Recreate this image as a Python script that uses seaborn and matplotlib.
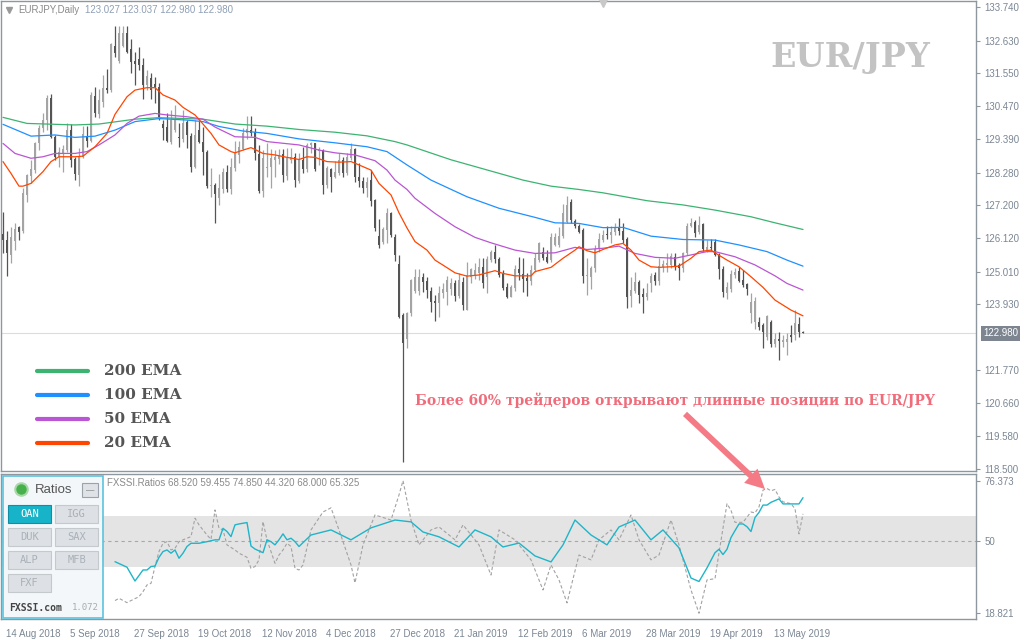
import numpy as np
import pandas as pd
import matplotlib.pyplot as plt
import matplotlib.patches as mpatches
import matplotlib.transforms as mtransforms
from matplotlib.lines import Line2D
import seaborn as sns

# EURJPY daily candles, 14 Aug 2018 .. 23 May 2019
opens = [126.24, 126.05, 125.56, 126.03, 126.49, 126.36, 127.54, 128.16, 128.36, 129.26,
         129.74, 130.01, 130.73, 129.46, 128.80, 128.91, 129.02, 129.68, 128.71, 128.20,
         128.80, 129.49, 129.33, 130.80, 130.21, 130.62, 131.08, 131.00, 132.46, 131.97,
         132.45, 132.89, 132.34, 131.97, 132.01, 131.83, 131.17, 131.39, 131.19, 131.11,
         129.88, 129.79, 129.30, 129.68, 129.46, 129.37, 129.96, 129.48, 128.45, 129.68,
         129.30, 128.97, 127.84, 127.87, 127.45, 127.72, 128.31, 127.72, 128.42, 128.86,
         129.04, 129.57, 129.68, 129.63, 128.89, 127.68, 128.42, 128.47, 128.69, 128.71,
         128.89, 128.17, 128.69, 128.78, 128.01, 128.69, 128.39, 129.19, 129.24, 129.00,
         129.02, 127.87, 128.39, 128.14, 128.28, 128.69, 128.28, 128.75, 129.04, 128.14,
         128.01, 127.76, 128.03, 127.37, 126.18, 125.99, 126.38, 126.95, 126.16, 125.26,
         123.58, 122.80, 123.65, 124.38, 124.38, 124.84, 124.71, 124.38, 124.05, 123.98,
         124.29, 124.35, 124.42, 124.64, 124.20, 124.68, 123.74, 124.84, 124.90, 124.95,
         125.15, 124.84, 125.39, 125.67, 125.42, 124.93, 124.51, 124.18, 124.46, 125.09,
         124.93, 124.79, 124.71, 125.06, 125.39, 125.67, 125.50, 125.39, 125.89, 125.89,
         126.18, 126.66, 127.32, 126.69, 126.51, 126.38, 124.86, 124.84, 125.12, 125.74,
         126.05, 126.24, 126.22, 126.33, 126.47, 126.36, 126.07, 124.20, 124.38, 124.68,
         124.26, 124.16, 124.62, 124.90, 124.71, 125.17, 125.23, 125.23, 125.50, 125.23,
         125.12, 125.61, 126.51, 126.65, 126.33, 126.58, 125.70, 125.83, 126.00, 125.56,
         125.09, 124.31, 124.42, 124.90, 125.04, 124.73, 124.60, 123.63, 123.36, 123.36,
         123.25, 122.84, 123.36, 122.62, 122.77, 122.70, 122.70, 122.92, 122.92, 123.28,
         123.027]
highs = [126.99, 126.36, 126.47, 126.60, 126.51, 127.76, 128.23, 128.69, 129.30, 129.85,
         130.26, 130.84, 130.87, 129.52, 129.13, 129.19, 129.92, 129.88, 128.80, 129.08,
         129.81, 129.81, 130.95, 131.11, 131.02, 131.50, 131.68, 132.54, 133.11, 133.11,
         133.11, 133.11, 132.68, 132.27, 132.41, 132.05, 131.66, 131.55, 131.44, 131.24,
         130.01, 130.23, 130.34, 130.51, 129.90, 130.34, 130.01, 129.57, 130.01, 130.01,
         129.79, 129.02, 128.42, 127.92, 128.23, 128.42, 128.53, 128.75, 129.33, 129.33,
         129.74, 130.14, 130.14, 129.74, 129.19, 129.02, 129.24, 129.04, 129.02, 129.04,
         129.04, 129.08, 129.08, 128.93, 128.91, 129.13, 129.26, 129.30, 129.26, 129.13,
         129.04, 128.50, 128.44, 128.66, 128.91, 128.80, 128.91, 129.24, 129.08, 128.58,
         128.12, 128.14, 128.36, 127.39, 126.73, 126.49, 127.10, 126.99, 126.25, 125.56,
         123.63, 123.68, 124.76, 125.09, 125.09, 124.97, 124.84, 124.51, 124.24, 124.54,
         124.62, 124.86, 124.79, 124.73, 124.95, 124.84, 125.34, 125.12, 125.31, 125.45,
         125.45, 125.53, 125.72, 125.89, 125.48, 125.06, 124.64, 124.57, 125.23, 125.50,
         125.45, 124.97, 125.23, 125.64, 125.99, 125.83, 125.72, 126.29, 126.27, 126.49,
         127.24, 127.50, 127.39, 126.73, 126.58, 126.44, 125.45, 125.20, 125.89, 126.29,
         126.38, 126.51, 126.51, 126.60, 126.77, 126.62, 126.14, 124.82, 125.01, 124.73,
         124.46, 124.62, 124.95, 125.01, 125.45, 125.39, 125.61, 125.63, 125.61, 125.28,
         125.67, 126.60, 126.77, 126.71, 126.84, 126.60, 126.05, 126.07, 126.07, 125.63,
         125.20, 124.68, 125.06, 125.12, 125.17, 125.06, 124.64, 124.29, 124.18, 123.52,
         123.30, 123.58, 123.41, 122.97, 123.03, 122.92, 122.97, 123.25, 123.74, 123.52,
         123.037]
lows = [125.61, 124.88, 125.28, 125.72, 126.05, 126.27, 127.32, 127.92, 128.25, 129.02,
        129.63, 129.68, 129.41, 128.69, 128.47, 128.31, 128.97, 128.47, 128.03, 127.85,
        128.75, 129.13, 129.30, 130.12, 130.07, 130.45, 130.89, 130.95, 132.10, 131.88,
        132.43, 132.23, 131.55, 131.17, 131.66, 130.69, 131.00, 130.69, 130.58, 130.01,
        129.35, 129.30, 129.22, 129.63, 129.11, 129.30, 129.08, 128.31, 128.42, 129.24,
        128.20, 127.76, 127.48, 126.62, 127.21, 127.59, 127.65, 127.57, 128.34, 128.58,
        129.02, 129.37, 129.48, 128.69, 127.61, 127.48, 128.12, 127.76, 128.12, 128.56,
        127.98, 128.03, 128.58, 127.81, 127.92, 128.28, 128.31, 128.91, 128.34, 128.53,
        127.57, 127.76, 127.65, 128.09, 128.20, 128.14, 128.20, 128.69, 127.98, 127.81,
        127.59, 127.48, 127.17, 126.36, 125.78, 125.92, 125.97, 126.14, 125.37, 123.47,
        118.74, 122.50, 123.55, 124.29, 124.24, 124.35, 124.13, 123.69, 123.39, 123.50,
        124.13, 123.91, 124.24, 124.05, 124.13, 123.74, 123.74, 124.62, 124.75, 124.73,
        124.46, 124.31, 125.34, 125.31, 124.84, 124.40, 124.13, 124.16, 124.38, 124.73,
        124.35, 124.20, 124.57, 125.01, 125.34, 125.39, 125.28, 125.34, 125.86, 125.83,
        126.11, 126.60, 126.60, 126.44, 126.27, 124.62, 124.24, 124.42, 125.01, 125.67,
        125.99, 126.07, 125.96, 126.22, 126.22, 125.94, 123.80, 123.85, 124.29, 123.98,
        123.63, 124.07, 124.35, 124.57, 124.57, 125.01, 125.01, 125.12, 125.06, 124.73,
        125.01, 125.56, 126.49, 126.16, 126.25, 125.70, 125.67, 125.70, 125.52, 124.75,
        124.18, 124.09, 124.35, 124.79, 124.68, 124.49, 124.24, 123.32, 123.10, 123.08,
        122.48, 122.75, 122.53, 122.53, 122.09, 122.53, 122.26, 122.70, 122.75, 122.86,
        122.980]
closes = [126.05, 125.61, 126.14, 126.41, 126.33, 127.59, 128.20, 128.38, 129.24, 129.74,
          130.01, 130.73, 129.46, 128.80, 128.97, 129.05, 129.68, 128.69, 128.23, 128.80,
          129.55, 129.33, 130.84, 130.23, 130.67, 131.06, 131.00, 132.51, 132.23, 132.90,
          132.90, 132.27, 131.94, 131.86, 131.83, 131.17, 131.46, 131.00, 131.11, 130.12,
          129.76, 129.33, 130.01, 130.01, 129.41, 129.90, 129.52, 128.45, 129.52, 129.30,
          128.97, 127.84, 127.87, 127.57, 127.76, 128.31, 127.72, 128.47, 128.91, 129.11,
          129.59, 129.70, 129.57, 128.93, 127.68, 128.75, 128.47, 128.75, 128.78, 128.86,
          128.20, 128.75, 128.80, 128.03, 128.69, 128.39, 129.19, 129.26, 128.39, 129.02,
          127.87, 128.42, 128.14, 128.31, 128.69, 128.28, 128.80, 129.04, 128.14, 128.01,
          127.76, 127.98, 127.35, 126.46, 125.89, 126.40, 126.95, 126.22, 125.56, 123.52,
          122.64, 123.63, 124.73, 124.84, 124.82, 124.68, 124.40, 124.02, 123.98, 124.31,
          124.42, 124.73, 124.64, 124.20, 124.73, 123.91, 124.90, 125.09, 125.06, 125.17,
          124.62, 125.42, 125.67, 125.42, 124.90, 124.46, 124.18, 124.51, 125.09, 124.95,
          124.75, 124.71, 125.06, 125.45, 125.94, 125.45, 125.34, 126.14, 126.14, 126.18,
          126.93, 127.21, 126.71, 126.51, 126.33, 124.86, 124.90, 125.12, 125.74, 126.07,
          126.22, 126.21, 126.33, 126.47, 126.36, 126.05, 124.18, 124.40, 124.68, 124.24,
          124.16, 124.31, 124.86, 124.71, 125.20, 125.26, 125.31, 125.52, 125.17, 125.12,
          125.61, 126.51, 126.62, 126.29, 126.55, 125.74, 125.83, 125.78, 125.56, 125.09,
          124.35, 124.49, 124.93, 125.01, 124.71, 124.57, 124.42, 124.02, 124.05, 123.19,
          123.03, 123.54, 122.62, 122.78, 122.73, 122.75, 122.78, 122.86, 123.33, 123.03,
          122.980]

# moving averages, read at selected trading days (day number from 14 Aug 2018)
ema200_day = [0, 6, 18, 24, 33, 39, 50, 58, 66, 74, 83, 91, 98, 101, 112, 130, 137, 144, 150,
              161, 170, 178, 187, 193, 200]
ema200 = [130.10, 129.90, 129.85, 129.88, 130.04, 130.09, 130.04, 129.88, 129.81, 129.70,
          129.61, 129.49, 129.30, 129.19, 128.70, 128.03, 127.83, 127.72, 127.61, 127.35,
          127.21, 127.04, 126.82, 126.62, 126.40]
ema100_day = [0, 7, 13, 18, 23, 28, 33, 39, 46, 50, 54, 60, 66, 74, 83, 91, 96, 101, 107, 116,
              124, 133, 138, 144, 150, 155, 162, 170, 178, 184, 191, 196, 200]
ema100 = [129.87, 129.48, 129.52, 129.44, 129.48, 129.68, 129.96, 130.06, 130.01, 129.96,
          129.80, 129.65, 129.57, 129.39, 129.26, 129.13, 128.97, 128.53, 128.03, 127.48,
          127.10, 126.80, 126.62, 126.60, 126.46, 126.47, 126.18, 126.07, 126.05, 125.89,
          125.67, 125.39, 125.19]
ema50_day = [0, 3, 7, 10, 13, 18, 21, 24, 28, 31, 34, 38, 41, 46, 50, 53, 58, 63, 66, 74,
             79, 83, 88, 93, 96, 98, 101, 103, 108, 113, 118, 122, 128, 133, 138, 143, 146,
             150, 154, 158, 163, 168, 172, 176, 178, 183, 188, 193, 196, 200]
ema50 = [129.24, 128.91, 128.75, 128.80, 128.91, 128.91, 128.97, 129.19, 129.52, 129.90,
         130.14, 130.23, 130.18, 130.12, 130.04, 129.78, 129.46, 129.44, 129.30, 129.19,
         129.02, 128.93, 128.86, 128.67, 128.36, 128.03, 127.72, 127.43, 126.93, 126.49,
         126.14, 125.96, 125.72, 125.61, 125.63, 125.81, 125.74, 125.78, 125.85, 125.61,
         125.48, 125.45, 125.56, 125.67, 125.67, 125.50, 125.23, 124.87, 124.62, 124.40]
ema20_day = [0, 2, 4, 5, 7, 10, 12, 14, 18, 20, 23, 26, 28, 31, 33, 36, 38, 40, 43, 45,
             48, 50, 52, 54, 57, 58, 60, 62, 63, 65, 68, 71, 74, 76, 78, 81, 84, 87, 89, 92,
             94, 97, 99, 101, 103, 106, 108, 111, 113, 116, 119, 123, 125, 128, 132, 133, 137,
             140, 143, 144, 146, 148, 150, 153, 155, 157, 159, 162, 164, 167, 169, 172, 174,
             177, 178, 181, 184, 187, 190, 193, 197, 200]
ema20 = [128.64, 128.25, 127.83, 127.83, 127.92, 128.31, 128.64, 128.80, 128.80, 128.82,
         129.13, 129.57, 130.20, 130.78, 131.00, 131.08, 131.08, 130.84, 130.67, 130.43,
         130.18, 129.88, 129.57, 129.19, 128.97, 128.93, 129.02, 129.10, 129.04, 128.91,
         128.86, 128.78, 128.71, 128.80, 128.78, 128.64, 128.62, 128.64, 128.53, 128.36,
         127.92, 127.54, 126.95, 126.45, 126.00, 125.72, 125.39, 125.14, 124.97, 124.86,
         124.90, 125.04, 124.95, 124.87, 124.87, 125.01, 125.15, 125.45, 125.72, 125.83,
         125.70, 125.63, 125.74, 125.89, 125.94, 125.72, 125.39, 125.17, 125.15, 125.17,
         125.19, 125.45, 125.67, 125.72, 125.63, 125.39, 125.17, 124.84, 124.49, 124.07,
         123.74, 123.55]

# FXSSI Ratios (OANDA) and dashed crowd line
ratio_day = [28, 31, 33, 35, 36, 37, 38, 39, 40, 41, 42, 43, 44, 45, 46, 47, 49, 51, 53, 54,
             55, 56, 57, 58, 59, 61, 62, 63, 65, 66, 67, 68, 69, 70, 71, 72, 73, 74, 77, 82,
             87, 92, 98, 102, 105, 109, 114, 118, 122, 125, 129, 133, 137, 140, 143, 147, 151,
             154, 158, 162, 165, 169, 172, 174, 176, 178, 179, 180, 181, 182, 183, 184, 185,
             186, 187, 188, 189, 190, 191, 192, 194, 195, 197, 199, 200]
ratio_oan = [41.2, 38.8, 32.8, 37.6, 37.6, 39.1, 39.3, 43.1, 45.6, 46.3, 44.9, 46.3, 42.7,
             44.9, 47.8, 49.2, 49.2, 49.9, 50.7, 50.7, 55.7, 54.3, 52.1, 57.2, 57.6, 58.2,
             48.0, 46.7, 45.1, 50.7, 49.9, 48.5, 50.7, 53.3, 50.7, 51.4, 49.9, 47.8, 52.8,
             55.0, 50.7, 55.9, 59.3, 58.5, 54.1, 52.0, 47.6, 55.0, 52.0, 47.6, 49.3, 43.7,
             41.1, 48.5, 59.3, 52.8, 48.5, 56.3, 59.3, 50.7, 55.0, 47.2, 34.1, 32.6, 38.5,
             45.1, 46.6, 44.3, 46.6, 51.7, 54.7, 57.6, 57.6, 56.4, 54.3, 60.4, 62.6, 65.8,
             65.8, 67.0, 68.5, 66.3, 66.3, 66.3, 69.0]
crowd_day = [28, 29, 31, 32, 34, 35, 36, 37, 38, 39, 40, 41, 42, 43, 44, 45, 47, 48, 49, 51,
             52, 53, 54, 55, 56, 58, 59, 61, 62, 63, 64, 65, 66, 68, 69, 70, 71, 72, 73, 74,
             75, 77, 80, 82, 84, 87, 88, 90, 93, 97, 99, 100, 102, 104, 107, 109, 113, 115,
             119, 122, 124, 128, 132, 135, 137, 139, 141, 144, 147, 149, 152, 154, 157, 159,
             162, 164, 167, 169, 172, 174, 176, 178, 179, 181, 182, 183, 185, 187, 188, 189,
             190, 191, 192, 193, 194, 195, 197, 198, 199, 200]
crowd = [24.3, 25.3, 23.4, 24.3, 26.0, 28.2, 31.1, 31.8, 39.1, 45.6, 49.2, 49.9, 46.3, 47.0,
         49.9, 50.7, 52.1, 60.1, 57.2, 52.8, 50.9, 63.7, 55.7, 55.0, 48.5, 46.3, 44.9, 43.1,
         38.3, 39.1, 42.0, 58.6, 50.7, 40.5, 44.1, 46.3, 49.2, 47.8, 38.3, 37.6, 39.8, 55.0,
         62.8, 64.6, 55.0, 39.8, 32.0, 48.5, 61.5, 59.3, 70.2, 76.4, 59.3, 48.5, 55.0, 56.3,
         50.7, 57.2, 48.5, 35.4, 55.0, 50.7, 42.0, 28.9, 39.8, 33.3, 23.3, 44.1, 42.0, 50.7,
         55.0, 50.7, 61.5, 50.7, 42.0, 44.1, 59.3, 48.5, 28.9, 18.8, 33.3, 33.8, 45.1, 66.4,
         63.5, 58.3, 58.3, 62.8, 62.4, 65.0, 72.3, 73.0, 72.0, 72.6, 69.3, 67.2, 66.4, 64.2,
         53.3, 62.0]

price_ticks = [133.74, 132.63, 131.55, 130.47, 129.39, 128.28, 127.20, 126.12, 125.01,
               123.93, 121.77, 120.66, 119.58, 118.50]
last_price = 122.98
ratio_ticks = [18.821, 50, 76.373]
ratio_tick_labels = ['18.821', '50', '76.373']
ema_labels = ['200 EMA', '100 EMA', '50 EMA', '20 EMA']
ema_colors = ['#3cb371', '#1e90ff', '#ba55d3', '#ff4500']
brokers = ['OAN', 'IGG', 'DUK', 'SAX', 'ALP', 'MFB', 'FXF']

dates = pd.bdate_range('2018-08-14', periods=len(closes), freq='C',
                       holidays=['2018-12-25', '2019-01-01'])
df = pd.DataFrame({'open': opens, 'high': highs, 'low': lows, 'close': closes})
df['day'] = np.arange(len(df))

sns.set_style('white')
plt.rcParams['font.family'] = ['Liberation Sans', 'DejaVu Sans']

W, H = 1024, 640
fig = plt.figure(figsize=(W / 100, H / 100), dpi=100)


def fx(px):
    return px / W


def fy(py):
    return 1 - py / H


frame = '#8e969e'
lab_col = '#7b8794'

ax = fig.add_axes([fx(1), fy(471), fx(976) - fx(1), fy(1) - fy(471)])
ax2 = fig.add_axes([fx(1), fy(619), fx(976) - fx(1), fy(474) - fy(619)])

# ---- price panel
ax.axhline(last_price, color='#dcdcdc', lw=0.8, zorder=0)
up = df['close'] >= df['open']
col = np.where(up, '#a4a4a4', '#545454')
ax.vlines(df['day'], df['low'], df['high'], colors=col, lw=0.9, zorder=2)
body = (df['close'] - df['open']).abs().clip(lower=0.04)
ax.bar(df['day'], body, bottom=df[['open', 'close']].min(axis=1), width=0.62,
       color=col, linewidth=0, zorder=3)

for d, v, c in [(ema200_day, ema200, ema_colors[0]), (ema100_day, ema100, ema_colors[1]),
                (ema50_day, ema50, ema_colors[2]), (ema20_day, ema20, ema_colors[3])]:
    sns.lineplot(x=d, y=v, ax=ax, color=c, lw=0.9, estimator=None, zorder=4)

ax.set_xlim(-0.5, 243.25)
ax.set_ylim(118.43, 133.94)
ax.set_xticks([])
ax.yaxis.tick_right()
ax.set_yticks(price_ticks)
ax.set_yticklabels([f'{v:.3f}' for v in price_ticks])
ax.tick_params(axis='y', direction='out', length=3, width=0.8, color=frame,
               labelsize=7, labelcolor=lab_col, pad=3)
ax.annotate(f'{last_price:.3f}', xy=(1, last_price), xycoords=('axes fraction', 'data'),
            xytext=(5, 0), textcoords='offset points', va='center', ha='left',
            fontsize=7, color='white',
            bbox=dict(boxstyle='square,pad=0.25', fc='#7d8591', ec='none'))

# ---- ratios panel
ax2.axhspan(39, 61, color='#e4e4e4', lw=0, zorder=0)
ax2.axhline(50, color='#a8a8a8', lw=0.8, ls=(0, (3, 3)), zorder=1)
sns.lineplot(x=crowd_day, y=crowd, ax=ax2, color='#a2a2a2', lw=0.8, estimator=None,
             linestyle=(0, (3, 2)), zorder=2)
sns.lineplot(x=ratio_day, y=ratio_oan, ax=ax2, color='#1fb5c9', lw=1.0, estimator=None,
             zorder=3)
ax2.set_xlim(-0.5, 243.25)
ax2.set_ylim(16.3, 79.3)
ax2.yaxis.tick_right()
ax2.set_yticks(ratio_ticks)
ax2.set_yticklabels(ratio_tick_labels)
ax2.tick_params(axis='y', direction='out', length=3, width=0.8, color=frame,
                labelsize=7, labelcolor=lab_col, pad=3)
tick_days = list(range(0, 193, 16))
ax2.set_xticks(tick_days)
ax2.set_xticklabels([f'{d.day} {d:%b %Y}' for d in dates[tick_days]], ha='left')
ax2.tick_params(axis='x', direction='out', length=4, width=0.8, color=frame,
                labelsize=7, labelcolor=lab_col, pad=3)
shift = mtransforms.ScaledTranslation(2 / 72, 0, fig.dpi_scale_trans)
for lab in ax2.get_xticklabels():
    lab.set_transform(lab.get_transform() + shift)

for a in (ax, ax2):
    a.set_xlabel('')
    a.set_ylabel('')
    for s in a.spines.values():
        s.set_color(frame)
        s.set_linewidth(1)

# ---- texts
fig.add_artist(Line2D([fx(603)], [fy(3)], marker='v', ms=6, color='#c8c8c8',
                      transform=fig.transFigure))
fig.add_artist(Line2D([fx(9)], [fy(10)], marker='v', ms=4, color='#9a9a9a',
                      transform=fig.transFigure))
fig.text(fx(18), fy(10), 'EURJPY,Daily', fontsize=7, color='#8a8a8a', va='center')
fig.text(fx(85), fy(10), '123.027 123.037 122.980 122.980', fontsize=7, color='#8ea0b6',
         va='center')
fig.text(fx(107), fy(483), 'FXSSI.Ratios 68.520 59.455 74.850 44.320 68.000 65.325',
         fontsize=7, color='#8a8a8a', va='center')
fig.text(fx(850), fy(57), 'EUR/JPY', fontsize=24, fontweight='bold', color='#c3c3c3',
         family='DejaVu Serif', ha='center', va='center')

for i, (lab, c) in enumerate(zip(ema_labels, ema_colors)):
    y = 371 + 24 * i
    fig.add_artist(Line2D([fx(37), fx(88)], [fy(y), fy(y)], lw=3, color=c,
                          solid_capstyle='round', transform=fig.transFigure))
    fig.text(fx(104), fy(y), lab, fontsize=11, fontweight='bold', color='#555555',
             family='DejaVu Serif', va='center')

fig.text(fx(415), fy(400), 'Более 60% трейдеров открывают длинные позиции по EUR/JPY',
         fontsize=10.0, fontweight='bold', color='#f06c7a', family='DejaVu Serif',
         va='center')
fig.add_artist(mpatches.FancyArrowPatch(
    (fx(683), fy(412)), (fx(767), fy(491)), transform=fig.transFigure,
    arrowstyle='simple,head_length=1.0,head_width=1.0,tail_width=0.3',
    mutation_scale=14, color='#f47a86', lw=0))

# ---- ratios widget


def rect(x0, y0, x1, y1, **kw):
    fig.add_artist(mpatches.Rectangle((fx(x0), fy(y1)), (x1 - x0) / W, (y1 - y0) / H,
                                      transform=fig.transFigure, **kw))


rect(3, 476, 103, 618, fc='#f3f7fa', ec='#5cc3de', lw=1.2)
fig.add_artist(Line2D([fx(21)], [fy(489)], marker='o', ms=9, mfc='#46b04a', mec='#a8d8a8',
                      mew=1.5, transform=fig.transFigure))
fig.text(fx(35), fy(490), 'Ratios', fontsize=9.5, color='#555555', va='center')
rect(82, 483, 98, 497, fc='#dfe3e7', ec='#9aa3ab', lw=0.8)
fig.text(fx(90), fy(491), '—', fontsize=6, color='#666666', ha='center', va='center')

for k, name in enumerate(brokers):
    row, colm = divmod(k, 2)
    x0 = 8 + colm * 47
    y0 = 505 + row * 23
    if name == 'OAN':
        rect(x0, y0, x0 + 43, y0 + 18, fc='#17b3c9', ec='#0e8fa3', lw=0.8)
        tc = 'white'
    else:
        rect(x0, y0, x0 + 43, y0 + 18, fc='#dde1e5', ec='#c4c9ce', lw=0.8)
        tc = '#a9b0b8'
    fig.text(fx(x0 + 21.5), fy(y0 + 9), name, fontsize=7.5, color=tc, ha='center',
             va='center', family='DejaVu Sans Mono')

fig.text(fx(9), fy(608), 'FXSSI.com', fontsize=7, fontweight='bold', color='#444444',
         family='DejaVu Sans Mono', va='center')
fig.text(fx(99), fy(608), '1.072', fontsize=6.5, color='#aaaaaa',
         family='DejaVu Sans Mono', va='center', ha='right')

fig.savefig('out.png', dpi=100)
